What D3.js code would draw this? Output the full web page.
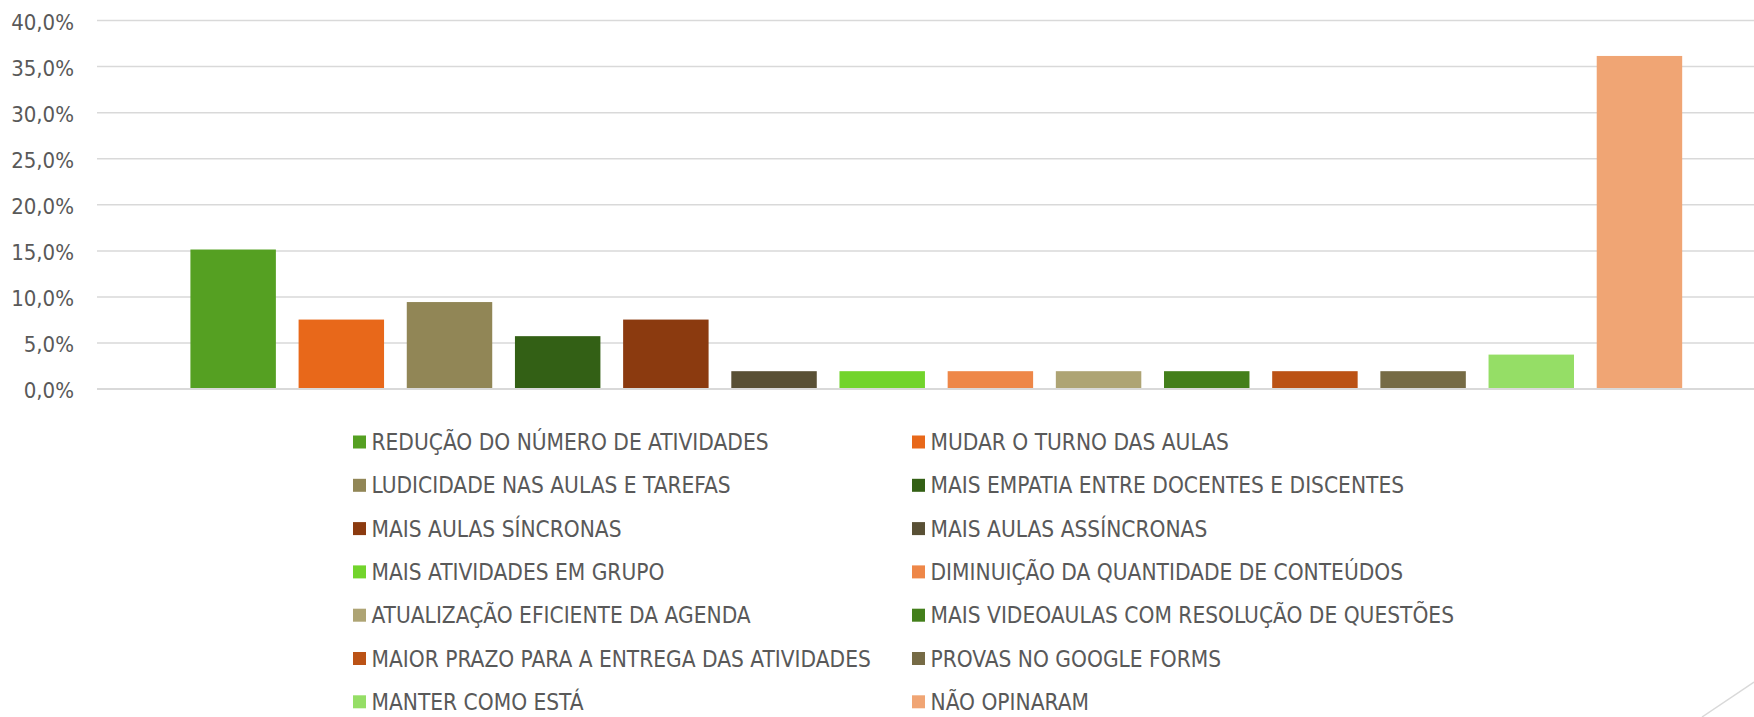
<!DOCTYPE html>
<html>
<head>
<meta charset="utf-8">
<script src="https://cdn.jsdelivr.net/npm/d3@7"></script>
<style>
  html, body { margin: 0; padding: 0; background: #ffffff; }
  svg { display: block; }
  .lbl { font-family: "Liberation Sans Narrow", "DejaVu Sans Condensed", "Open Sans", sans-serif; fill: #595959; }
</style>
</head>
<body>
<svg id="chart" width="1754" height="717"></svg>
<script>
const categories = [
  "REDUÇÃO DO NÚMERO DE ATIVIDADES",
  "MUDAR O TURNO DAS AULAS",
  "LUDICIDADE NAS AULAS E TAREFAS",
  "MAIS EMPATIA ENTRE DOCENTES E DISCENTES",
  "MAIS AULAS SÍNCRONAS",
  "MAIS AULAS ASSÍNCRONAS",
  "MAIS ATIVIDADES EM GRUPO",
  "DIMINUIÇÃO DA QUANTIDADE DE CONTEÚDOS",
  "ATUALIZAÇÃO EFICIENTE DA AGENDA",
  "MAIS VIDEOAULAS COM RESOLUÇÃO DE QUESTÕES",
  "MAIOR PRAZO PARA A ENTREGA DAS ATIVIDADES",
  "PROVAS NO GOOGLE FORMS",
  "MANTER COMO ESTÁ",
  "NÃO OPINARAM"
];
const values = [15.1, 7.5, 9.4, 5.7, 7.5, 1.9, 1.9, 1.9, 1.9, 1.9, 1.9, 1.9, 3.7, 36.1];
const colors = [
  "#55A022", "#E8681A", "#918656", "#336015", "#8B3A0F", "#595035", "#72D42C",
  "#EE8748", "#AEA474", "#437F1B", "#BB5215", "#766B45", "#95DE66", "#F0A574"
];
const yTicks = [0, 5, 10, 15, 20, 25, 30, 35, 40];

const svg = d3.select("#chart");

const x = d3.scaleBand().domain(categories).range([179.6, 1693]).paddingInner(0.21).paddingOuter(0.1);
const y = d3.scaleLinear().domain([0, 40]).range([388.7, 20]);
const color = d3.scaleOrdinal().domain(categories).range(colors);

const fmt = d => d.toFixed(1).replace(".", ",") + "%";

// gridlines + y labels
const axis = d3.axisLeft(y).tickValues(yTicks).tickFormat(fmt).tickSizeInner(-1657).tickSizeOuter(0).tickPadding(23);
const gAxis = svg.append("g").attr("transform", "translate(97,0)").call(axis);
gAxis.select(".domain").remove();
gAxis.selectAll(".tick line").attr("stroke", "#D9D9D9").attr("stroke-width", 1.5);
gAxis.selectAll(".tick text")
  .attr("class", "lbl")
  .style("font-size", "22px")
  .attr("dy", "0.42em");

// bars
svg.append("g").selectAll("rect").data(categories).join("rect")
  .attr("x", d => x(d))
  .attr("width", x.bandwidth())
  .attr("y", (d, i) => y(values[i]))
  .attr("height", (d, i) => y(0) - y(values[i]))
  .attr("fill", d => color(d));

// redraw zero line on top
svg.append("line").attr("x1", 97).attr("x2", 1754).attr("y1", y(0)).attr("y2", y(0))
  .attr("stroke", "#D9D9D9").attr("stroke-width", 1.5);

// legend
const colX = [353, 912];
const rowY0 = 442, rowStep = 43.3;
const leg = svg.append("g").selectAll("g").data(categories).join("g")
  .attr("transform", (d, i) => `translate(${colX[i % 2]},${rowY0 + Math.floor(i / 2) * rowStep})`);
leg.append("rect").attr("x", 0).attr("y", -6.5).attr("width", 13).attr("height", 13).attr("fill", d => color(d));
leg.append("text").attr("class", "lbl").attr("x", 18.5).attr("y", 0).attr("dy", "0.36em")
  .style("font-size", "22.5px").text(d => d);

// decorative diagonal line bottom-right
svg.append("line").attr("x1", 1702).attr("y1", 717).attr("x2", 1754).attr("y2", 682)
  .attr("stroke", "#D9D9D9").attr("stroke-width", 1.5);
</script>
</body>
</html>
